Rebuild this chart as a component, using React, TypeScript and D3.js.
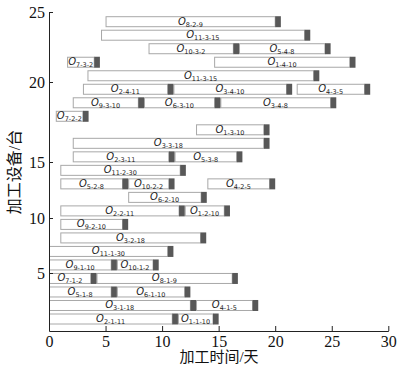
import React, { useRef, useEffect } from "react";
import * as d3 from "d3";

// operation subscripts (job-op-time), machine row, start, finish (days)
const opNames = [
  "2-1-11", "1-1-10", "3-1-18", "4-1-5", "5-1-8", "6-1-10", "7-1-2", "8-1-9",
  "9-1-10", "10-1-2", "11-1-30", "3-2-18", "9-2-10", "2-2-11", "1-2-10",
  "6-2-10", "5-2-8", "10-2-2", "4-2-5", "11-2-30", "2-3-11", "5-3-8",
  "3-3-18", "1-3-10", "7-2-2", "9-3-10", "6-3-10", "3-4-8", "2-4-11",
  "3-4-10", "4-3-5", "11-3-15", "7-3-2", "1-4-10", "10-3-2", "5-4-8",
  "11-3-15", "8-2-9",
];
const opMachine = [
  1, 1, 2, 2, 3, 3, 4, 4, 5, 5, 6, 7, 8, 9, 9, 10, 11, 11, 11, 12, 13, 13,
  14, 15, 16, 17, 17, 17, 18, 18, 18, 19, 20, 20, 21, 21, 22, 23,
];
const opStart = [
  0, 11.4, 0, 13.0, 0, 6.0, 0, 4.2, 0, 6.0, 0, 1.0, 1.0, 1.0, 12.0, 7.0, 1.0,
  7.0, 14.0, 1.0, 2.1, 11.1, 2.1, 13.0, 0.6, 2.1, 8.4, 15.15, 3.0, 11.0, 21.9,
  3.4, 1.6, 14.6, 8.8, 16.8, 4.6, 5.0,
];
const opEnd = [
  11.4, 15.0, 13.0, 18.5, 6.0, 12.5, 4.2, 16.7, 6.0, 9.7, 11.0, 13.9, 7.0,
  12.0, 16.0, 13.95, 7.0, 11.1, 20.0, 12.1, 11.1, 17.1, 19.5, 19.5, 3.5, 8.4,
  15.15, 25.4, 11.0, 21.5, 28.4, 23.9, 4.5, 27.1, 16.8, 24.9, 23.1, 20.5,
];
const blockLen = 0.5; // dark tail at the end of each operation

const xTicks = [0, 5, 10, 15, 20, 25, 30];
const yTicks = [0, 5, 10, 15, 20, 25];
const yTickPos = [331, 273, 218, 162, 82, 12];

const W = 409;
const H = 371;
const serif = "'Liberation Serif', 'Noto Sans CJK SC', serif";

export default function App() {
  const ref = useRef<SVGSVGElement>(null);

  useEffect(() => {
    const svg = d3.select(ref.current);
    svg.selectAll("*").remove();

    const x = d3.scaleLinear().domain([0, 30]).range([49, 388.3]);
    const row = d3.scaleLinear().domain([1, 23]).range([319, 21.7]);
    const yAx = d3.scaleLinear().domain(yTicks).range(yTickPos);
    const barH = 10;

    const ops = opNames.map((n, i) => ({
      name: n,
      m: opMachine[i],
      s: opStart[i],
      e: opEnd[i],
    }));

    const g = svg.append("g");

    g.selectAll("rect.bar")
      .data(ops)
      .enter()
      .append("rect")
      .attr("class", "bar")
      .attr("x", (d) => x(d.s) + 0.5)
      .attr("y", (d) => row(d.m) - barH / 2)
      .attr("width", (d) => x(d.e - blockLen) - x(d.s) - 0.5)
      .attr("height", barH)
      .style("fill", "#fff")
      .style("stroke", "#a8a8a8")
      .style("stroke-width", 1);

    g.selectAll("rect.blk")
      .data(ops)
      .enter()
      .append("rect")
      .attr("class", "blk")
      .attr("x", (d) => x(d.e - blockLen))
      .attr("y", (d) => row(d.m) - barH / 2 - 0.5)
      .attr("width", (d) => x(d.e) - x(d.e - blockLen))
      .attr("height", barH + 1)
      .style("fill", "#585858");

    const lbl = g
      .selectAll("text.op")
      .data(ops)
      .enter()
      .append("text")
      .attr("class", "op")
      .attr("x", (d) => (x(d.s) + x(d.e - blockLen)) / 2)
      .attr("y", (d) => row(d.m) + 3)
      .attr("text-anchor", "middle")
      .style("font-family", "'DejaVu Sans', sans-serif")
      .style("fill", "#222");
    lbl
      .append("tspan")
      .style("font-style", "italic")
      .style("font-size", "10px")
      .text("O");
    lbl
      .append("tspan")
      .attr("dy", 2)
      .style("font-size", "6.5px")
      .text((d) => d.name);

    const xAxis = svg
      .append("g")
      .attr("transform", "translate(0,331)")
      .call(
        d3
          .axisBottom(x)
          .tickValues(xTicks)
          .tickSize(-5)
          .tickSizeOuter(0)
          .tickPadding(5)
      );
    xAxis.selectAll("text").style("font-family", serif).style("font-size", "16px").style("fill", "#111");
    xAxis.selectAll("line,path").style("stroke", "#222");

    const yAxis = svg
      .append("g")
      .attr("transform", "translate(49,0)")
      .call(
        d3
          .axisLeft(yAx)
          .tickValues(yTicks.slice(1))
          .tickSize(-4)
          .tickSizeOuter(0)
          .tickPadding(4)
      );
    yAxis.selectAll("text").style("font-family", serif).style("font-size", "16px").style("fill", "#111");
    yAxis.selectAll("line,path").style("stroke", "#222");

    svg
      .append("text")
      .attr("x", 219)
      .attr("y", 362)
      .attr("text-anchor", "middle")
      .style("font-family", serif)
      .style("font-size", "15px")
      .style("fill", "#111")
      .text("加工时间/天");

    svg
      .append("text")
      .attr("transform", "translate(20,172) rotate(-90)")
      .attr("text-anchor", "middle")
      .style("font-family", serif)
      .style("font-size", "16px")
      .style("fill", "#111")
      .text("加工设备/台");
  }, []);

  return (
    <svg
      ref={ref}
      width={W}
      height={H}
      style={{ position: "absolute", left: 0, top: 0, background: "#fff" }}
    />
  );
}
